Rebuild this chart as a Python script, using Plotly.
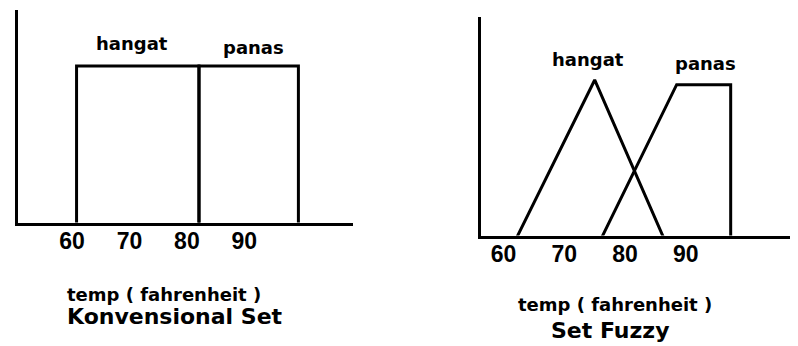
import plotly.graph_objects as go

# ---- data (temperature in Fahrenheit, membership degree) ----
tick_vals = [60, 70, 80, 90]
tick_text = ["60", "70", "80", "90"]

# Conventional (crisp) sets
konv_hangat_x = [60.8, 60.8, 82.1, 82.1]
konv_hangat_y = [0, 1, 1, 0]
konv_panas_x = [82.1, 82.1, 99.4, 99.4]
konv_panas_y = [0, 1, 1, 0]

# Fuzzy sets
fuzzy_hangat_x = [62.2, 75.0, 86.3]
fuzzy_hangat_y = [0, 1, 0]
fuzzy_panas_x = [76.2, 88.5, 97.4, 97.4]
fuzzy_panas_y = [0, 0.97, 0.97, 0]

set_labels = ["hangat", "panas"]
axis_title = "temp ( fahrenheit )"
panel_titles = ["Konvensional Set", "Set Fuzzy"]

# page body has an 8px default margin, so the figure is sized to fit the window
W, H = 790, 338
TXT = "DejaVu Sans"
NUM = "Liberation Sans"
line_style = dict(color="black", width=3)

fig = go.Figure()
fig.add_trace(go.Scatter(x=konv_hangat_x, y=konv_hangat_y, mode="lines", line=line_style, xaxis="x", yaxis="y", hoverinfo="skip"))
fig.add_trace(go.Scatter(x=konv_panas_x, y=konv_panas_y, mode="lines", line=line_style, xaxis="x", yaxis="y", hoverinfo="skip"))
fig.add_trace(go.Scatter(x=fuzzy_hangat_x, y=fuzzy_hangat_y, mode="lines", line=line_style, xaxis="x2", yaxis="y2", hoverinfo="skip"))
fig.add_trace(go.Scatter(x=fuzzy_panas_x, y=fuzzy_panas_y, mode="lines", line=line_style, xaxis="x2", yaxis="y2", hoverinfo="skip"))

def xaxis(domain, rng, anchor):
    return dict(domain=domain, range=rng, anchor=anchor, showline=True, linecolor="black", linewidth=3,
                showgrid=False, zeroline=False, ticks="", tickvals=tick_vals, ticktext=tick_text,
                tickfont=dict(family=NUM, size=23, color="black", weight="bold"), ticklabelstandoff=-4)

def yaxis(domain, rng, anchor):
    return dict(domain=domain, range=rng, anchor=anchor, showline=True, linecolor="black", linewidth=3,
                showgrid=False, zeroline=False, showticklabels=False, ticks="")

fig.update_layout(
    width=W, height=H, margin=dict(l=0, r=0, t=0, b=0, autoexpand=False),
    paper_bgcolor="white", plot_bgcolor="white", showlegend=False,
    xaxis=xaxis([10 / W, 345 / W], [50.61, 108.9], "y"),
    yaxis=yaxis([1 - 214.5 / H, 1 - 2 / H], [0.0095, 1.354], "x"),
    xaxis2=xaxis([472.5 / W, 1.0], [56.19, 108.49], "y2"),
    yaxis2=yaxis([1 - 227.5 / H, 1 - 9 / H], [0.0096, 1.401], "x2"),
)

lab_font = dict(family=TXT, size=18, color="black", weight="bold")
# set labels (data coordinates)
fig.add_annotation(x=70.4, y=1.14, xref="x", yref="y", text=set_labels[0], showarrow=False, font=lab_font, xanchor="center", yanchor="middle")
fig.add_annotation(x=91.5, y=1.114, xref="x", yref="y", text=set_labels[1], showarrow=False, font=lab_font, xanchor="center", yanchor="middle")
fig.add_annotation(x=73.9, y=1.13, xref="x2", yref="y2", text=set_labels[0], showarrow=False, font=lab_font, xanchor="center", yanchor="middle")
fig.add_annotation(x=93.2, y=1.108, xref="x2", yref="y2", text=set_labels[1], showarrow=False, font=lab_font, xanchor="center", yanchor="middle")

# axis titles and panel titles
title_font = dict(family=TXT, size=22, color="black", weight="bold")
def paper_note(px, py, text, font):
    fig.add_annotation(x=px / W, y=1 - py / H, xref="paper", yref="paper", text=text, showarrow=False,
                       font=font, xanchor="center", yanchor="middle")

paper_note(156, 286.5, axis_title, lab_font)
paper_note(167, 308.5, panel_titles[0], title_font)
paper_note(607, 296.5, axis_title, lab_font)
paper_note(602, 322, panel_titles[1], title_font)

fig.write_html("out.html")
